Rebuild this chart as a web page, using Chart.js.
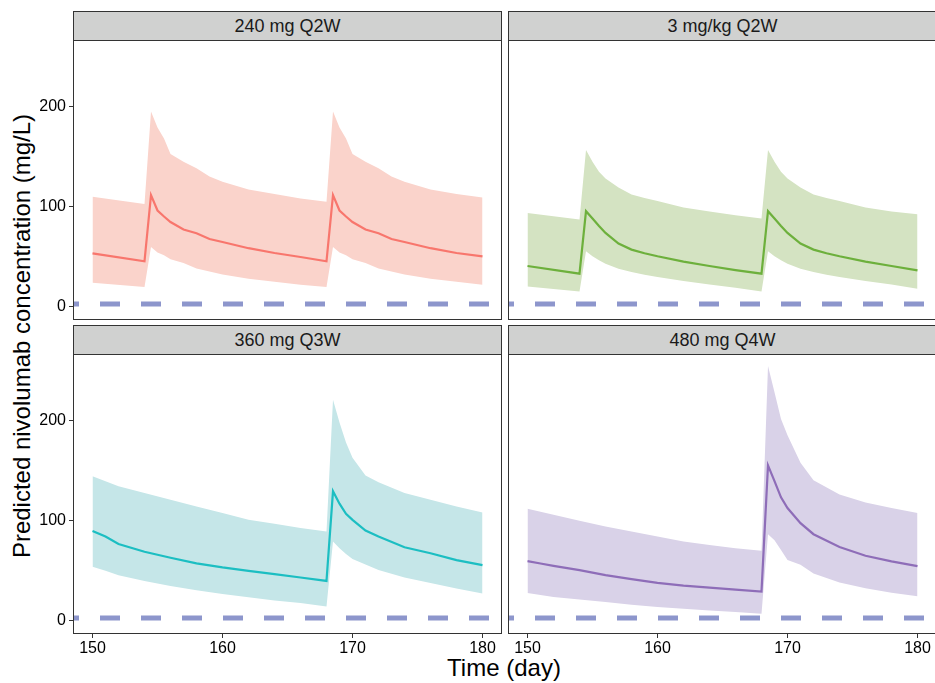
<!DOCTYPE html>
<html>
<head>
<meta charset="utf-8">
<script src="https://cdn.jsdelivr.net/npm/chart.js@4.4.1/dist/chart.umd.min.js"></script>
<style>
  html, body { margin: 0; padding: 0; background: #fff; overflow: hidden; }
  body { width: 935px; height: 683px; position: relative; font-family: "Liberation Sans", Arial, sans-serif; }
  canvas { position: absolute; }
  .strip {
    position: absolute; box-sizing: border-box; height: 30px;
    background: #d0d1d0; border: 1px solid #333;
    font-size: 18px; color: #1a1a1a; text-align: center; line-height: 28px;
  }
  .ytitle {
    position: absolute; left: 22px; top: 336px; white-space: nowrap;
    transform: translate(-50%, -50%) rotate(-90deg); font-size: 24px; color: #000;
  }
  .xtitle {
    position: absolute; left: 504px; top: 668px; white-space: nowrap;
    transform: translate(-50%, -50%); font-size: 24px; color: #000;
  }
</style>
</head>
<body>

<div class="ytitle">Predicted nivolumab concentration (mg/L)</div>
<div class="xtitle">Time (day)</div>

<script>
// ---- data ----
const daysQ2W = [150, 154, 154.5, 155, 155.5, 156, 157, 158, 159, 160, 162, 164, 166, 168,
                 168.5, 169, 169.5, 170, 171, 172, 173, 174, 176, 178, 180];
const daysQ3W = [150, 151, 152, 154, 156, 158, 160, 162, 164, 166, 168,
                 168.5, 169, 169.5, 170, 171, 172, 174, 176, 178, 180];

// 240 mg Q2W
const med240 = [53.2, 45.2, 111.4, 96, 90, 84.5, 77, 73.3, 67.5, 64.5, 58.3, 53.5, 49.5, 45.2,
                111.4, 96, 90, 84.5, 77, 73.3, 67.5, 64.5, 58.3, 53.5, 50.2];
const lo240  = [23.8, 19.4, 59.5, 53.9, 51.2, 47.2, 43.5, 38.1, 35, 32.1, 27.8, 24.8, 21.8, 19.4,
                59.5, 53.9, 51.2, 47.2, 43.5, 38.1, 35, 32.1, 27.8, 24.8, 21.8];
const hi240  = [109.7, 102.4, 195, 179, 168, 152.5, 144.8, 138.2, 130, 124.8, 117, 112.4, 108, 104.7,
                195, 179, 168, 152.5, 144.8, 138.2, 130, 124.8, 117, 112.4, 109];

// 3 mg/kg Q2W
const med3mk = [40.5, 32.8, 95.3, 88, 80.6, 73.6, 62.9, 56.9, 53.3, 50.2, 44.9, 40.5, 36.4, 32.8,
                95.3, 88, 80.6, 73.6, 62.9, 56.9, 53.3, 50.2, 44.9, 40.5, 36.1];
const lo3mk  = [20.1, 15, 55.2, 50.2, 46.2, 42.8, 37.8, 34.4, 31.8, 29.4, 25.4, 22.1, 18.8, 15,
                55.2, 50.2, 46.2, 42.8, 37.8, 34.4, 31.8, 29.4, 25.4, 22.1, 17.8];
const hi3mk  = [93.6, 87, 156.5, 144.8, 134.8, 128.1, 119.1, 112.1, 108.5, 105.4, 99, 95, 91.3, 88,
                156.5, 144.8, 134.8, 128.1, 119.1, 112.1, 108.5, 105.4, 99, 95, 92.3];

// 360 mg Q3W
const med360 = [89.6, 83.9, 76.5, 68.8, 62.7, 57.1, 53.1, 49.7, 46.3, 43, 39.6,
                129.2, 116.8, 106.7, 100.7, 89.9, 83.9, 73.2, 67.2, 60.4, 55.4];
const lo360  = [53.7, 49.7, 45.3, 39.6, 34.5, 30.2, 26.5, 23.2, 20.1, 17.4, 14.1,
                78.9, 72.2, 66.5, 61.4, 56.1, 50.4, 43, 37.6, 31.9, 26.9];
const hi360  = [144.3, 139.3, 134.2, 127.6, 120.8, 114.1, 107.4, 100.7, 96.7, 92.6, 88.9,
                220.8, 198, 177.9, 162.8, 145, 138.3, 127.6, 120.8, 114.1, 108.1];

// 480 mg Q4W
const med480 = [59.4, 57, 54.7, 50.4, 45.3, 41.3, 37.6, 34.9, 32.9, 30.9, 28.9,
                155.1, 139.3, 123.2, 112.5, 97.4, 86.3, 73.5, 64.8, 59.1, 54.4];
const lo480  = [27.5, 25.5, 23.5, 21.1, 18.5, 15.8, 13.4, 11.8, 10.1, 8.4, 6.7,
                86.3, 80.2, 70.5, 60.4, 55.7, 47, 38, 32.2, 27.8, 24.2];
const hi480  = [111.8, 108.7, 105.7, 99.7, 94, 88.9, 83.9, 78.9, 75.5, 72.2, 69.8,
                254.5, 228.3, 201.4, 185.3, 157.8, 140.3, 125.9, 118.1, 112.4, 107.4];

const xTicks = [150, 160, 170, 180];
const yTicks = [0, 100, 200];
const lloq = 2.5;

// ---- layout / styles ----
const FONT = '"Liberation Sans", Arial, sans-serif';
const xRange = [148.5, 181.5];
const yRange = [-13.5, 266.5];

const panels = [
    { title: '240 mg Q2W', days: daysQ2W, med: med240, lo: lo240, hi: hi240,
      line: '#F8766D', band: '#FAD3CB', left: 0, top: 40, w: 502, h: 280, yAxis: true, xAxis: false },
    { title: '3 mg/kg Q2W', days: daysQ2W, med: med3mk, lo: lo3mk, hi: hi3mk,
      line: '#6DB03C', band: '#D4E3C2', left: 508, top: 40, w: 429, h: 280, yAxis: false, xAxis: false },
    { title: '360 mg Q3W', days: daysQ3W, med: med360, lo: lo360, hi: hi360,
      line: '#1CBEC2', band: '#C5E6E8', left: 0, top: 354, w: 502, h: 329, yAxis: true, xAxis: true },
    { title: '480 mg Q4W', days: daysQ3W, med: med480, lo: lo480, hi: hi480,
      line: '#8E6DB8', band: '#D9D2E8', left: 508, top: 354, w: 429, h: 329, yAxis: false, xAxis: true }
];

// panel border + dashed reference line
const panelDecor = {
    id: 'panelDecor',
    beforeDatasetsDraw(chart) {
        const { ctx, chartArea: a, scales } = chart;
        const y = scales.y.getPixelForValue(lloq);
        ctx.save();
        ctx.strokeStyle = '#8D96CC';
        ctx.lineWidth = 5;
        ctx.setLineDash([20, 21]);
        ctx.lineDashOffset = 14;
        ctx.beginPath();
        ctx.moveTo(a.left, y);
        ctx.lineTo(a.right, y);
        ctx.stroke();
        ctx.restore();
    },
    afterDraw(chart) {
        const { ctx, chartArea: a } = chart;
        ctx.save();
        ctx.strokeStyle = '#333';
        ctx.lineWidth = 1;
        ctx.strokeRect(a.left + 0.5, a.top + 0.5, a.right - a.left - 1, a.bottom - a.top - 1);
        ctx.restore();
    }
};

function points(days, vals) {
    return days.map((d, i) => ({ x: d, y: vals[i] }));
}

panels.forEach(p => {
    const canvas = document.createElement('canvas');
    canvas.width = p.w;
    canvas.height = p.h;
    canvas.style.left = p.left + 'px';
    canvas.style.top = p.top + 'px';
    document.body.appendChild(canvas);

    const strip = document.createElement('div');
    strip.className = 'strip';
    const plotLeft = p.left + (p.yAxis ? 73 : 0);
    strip.style.left = plotLeft + 'px';
    strip.style.top = (p.top - 29) + 'px';
    strip.style.width = (p.left + p.w - plotLeft) + 'px';
    strip.textContent = p.title;
    document.body.appendChild(strip);

    new Chart(canvas, {
        type: 'line',
        data: {
            // median first so it is painted above the band
            datasets: [
                { data: points(p.days, p.med), borderColor: p.line, borderWidth: 2.2,
                  pointRadius: 0, fill: false, tension: 0 },
                { data: points(p.days, p.lo), borderWidth: 0, pointRadius: 0, fill: false },
                { data: points(p.days, p.hi), borderWidth: 0, pointRadius: 0,
                  fill: '-1', backgroundColor: p.band }
            ]
        },
        options: {
            responsive: false,
            animation: false,
            devicePixelRatio: 1,
            layout: { padding: 0 },
            plugins: { legend: { display: false }, tooltip: { enabled: false } },
            scales: {
                x: {
                    type: 'linear',
                    display: p.xAxis,
                    min: xRange[0], max: xRange[1],
                    afterBuildTicks: s => { s.ticks = xTicks.map(v => ({ value: v })); },
                    afterFit: s => {
                        if (!p.xAxis) return;
                        s.height = 49; s.paddingLeft = 0; s.paddingRight = 0;
                    },
                    grid: { drawOnChartArea: false, drawTicks: true, tickLength: 4, color: '#333' },
                    border: { display: false },
                    ticks: { color: '#000', padding: 1, maxRotation: 0,
                             font: { family: FONT, size: 16 } }
                },
                y: {
                    type: 'linear',
                    display: p.yAxis,
                    min: yRange[0], max: yRange[1],
                    afterBuildTicks: s => { s.ticks = yTicks.map(v => ({ value: v })); },
                    afterFit: s => {
                        if (!p.yAxis) return;
                        s.width = 73; s.paddingTop = 0; s.paddingBottom = 0;
                    },
                    grid: { drawOnChartArea: false, drawTicks: true, tickLength: 4, color: '#333' },
                    border: { display: false },
                    ticks: { color: '#000', padding: 3, font: { family: FONT, size: 16 } }
                }
            }
        },
        plugins: [panelDecor]
    });
});
</script>
</body>
</html>
